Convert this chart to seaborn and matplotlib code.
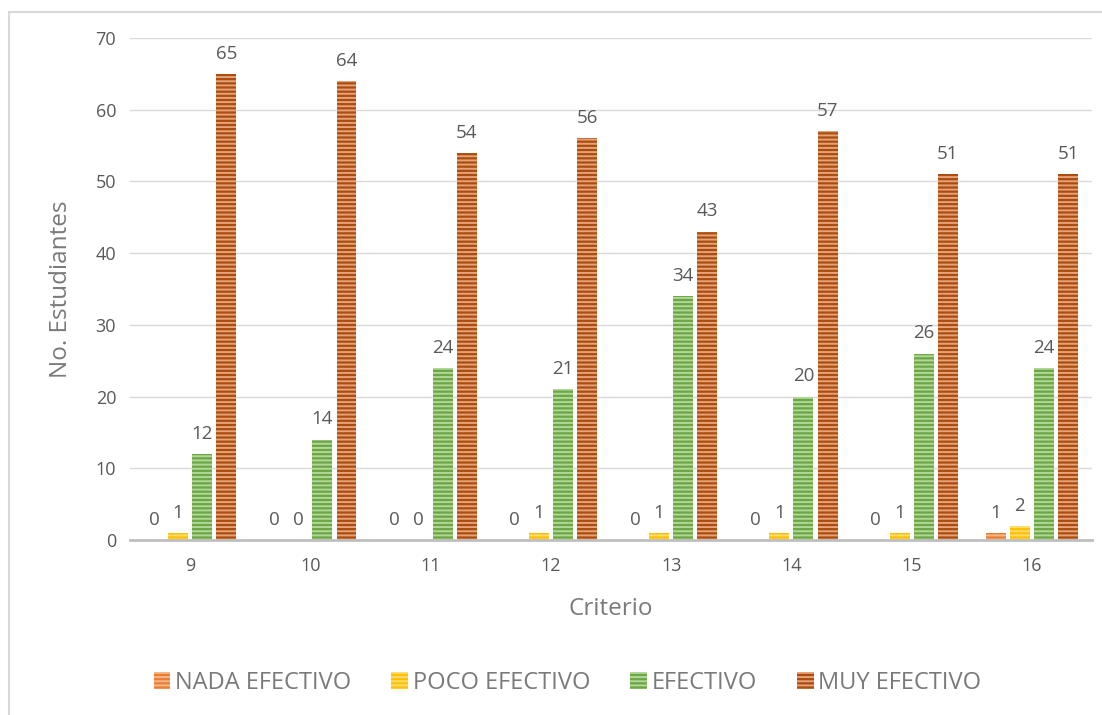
import matplotlib
matplotlib.use("Agg")
import matplotlib.pyplot as plt
from matplotlib.lines import Line2D
from matplotlib.patches import Patch
import seaborn as sns
import pandas as pd

# Survey results per criterion
criterios = ["9", "10", "11", "12", "13", "14", "15", "16"]
nada_efectivo = [0, 0, 0, 0, 0, 0, 0, 1]
poco_efectivo = [1, 0, 0, 1, 1, 1, 1, 2]
efectivo = [12, 14, 24, 21, 34, 20, 26, 24]
muy_efectivo = [65, 64, 54, 56, 43, 57, 51, 51]

series = ["NADA EFECTIVO", "POCO EFECTIVO", "EFECTIVO", "MUY EFECTIVO"]
base_colors = ["#ED7D31", "#FFC000", "#6BA743", "#AD4C0C"]
stripe_colors = ["#F6B78D", "#FFDD6E", "#B3D79A", "#E3A47B"]

rows = []
for name, vals in zip(series, [nada_efectivo, poco_efectivo, efectivo, muy_efectivo]):
    for c, v in zip(criterios, vals):
        rows.append({"Criterio": c, "Serie": name, "Valor": v})
df = pd.DataFrame(rows)

sns.set_theme(style="white")
plt.rcParams["font.family"] = ["Open Sans", "DejaVu Sans"]
plt.rcParams["hatch.linewidth"] = 1.4

text_color = "#595959"
title_color = "#7A7A7A"

fig = plt.figure(figsize=(11.02, 7.15), dpi=100)
ax = fig.add_axes([0.118, 0.2448, 0.873, 0.7021])

sns.barplot(data=df, x="Criterio", y="Valor", hue="Serie", order=criterios,
            hue_order=series, palette=base_colors, width=0.8, gap=0.17,
            ax=ax, legend=False, linewidth=0)

# Striped fill for each series
for i, container in enumerate(ax.containers):
    for bar in container:
        bar.set_facecolor(base_colors[i])
        bar.set_edgecolor(stripe_colors[i])
        bar.set_hatch("----")
        bar.set_linewidth(0)
    ax.bar_label(container, labels=[str(int(v)) for v in container.datavalues],
                 padding=8, fontsize=13.5, color=text_color)

ax.set_ylim(0, 70)
ax.set_yticks(range(0, 71, 10))
ax.set_xlim(-0.5, len(criterios) - 0.5)
ax.yaxis.grid(True, color="#D9D9D9", linewidth=1)
ax.set_axisbelow(True)
for s in ["top", "right", "left"]:
    ax.spines[s].set_visible(False)
ax.spines["bottom"].set_color("#BFBFBF")
ax.spines["bottom"].set_linewidth(2)
ax.tick_params(axis="both", length=0, labelsize=13, labelcolor=text_color)
ax.tick_params(axis="x", pad=12)
ax.tick_params(axis="y", pad=10)

ax.set_ylabel("No. Estudiantes", fontsize=17.5, color=title_color, labelpad=16)
ax.set_xlabel("Criterio", fontsize=17.5, color=title_color, labelpad=16)

handles = [Patch(facecolor=base_colors[i], edgecolor=stripe_colors[i],
                 hatch="----", linewidth=0) for i in range(4)]
fig.legend(handles, series, loc="center", bbox_to_anchor=(0.515, 0.045), ncol=4,
           frameon=False, fontsize=17, labelcolor=title_color,
           handlelength=0.7, handleheight=0.7, handletextpad=0.2, columnspacing=1.7)

# Chart area border (left and top edges)
fig.add_artist(Line2D([9 / 1102, 9 / 1102], [0, 1 - 12 / 715], color="#D9D9D9",
                      linewidth=1.5, transform=fig.transFigure))
fig.add_artist(Line2D([9 / 1102, 1], [1 - 12 / 715, 1 - 12 / 715], color="#D9D9D9",
                      linewidth=1.5, transform=fig.transFigure))

fig.savefig("out.png", dpi=100, facecolor="white")
